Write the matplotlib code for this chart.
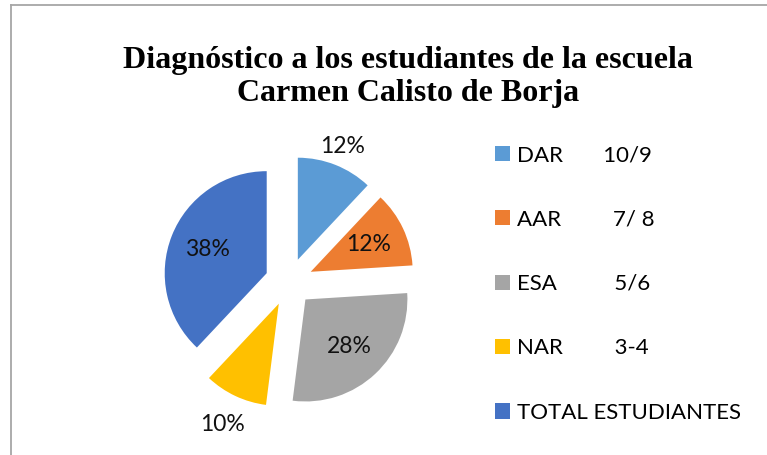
import numpy as np
import matplotlib
matplotlib.use('Agg')
import matplotlib.pyplot as plt
from matplotlib.patches import Patch
from matplotlib.lines import Line2D

#data
categories = ['DAR', 'AAR', 'ESA', 'NAR', 'TOTAL ESTUDIANTES']
ranges = ['10/9', '7/ 8', '5/6', '3-4', '']
percents = [12, 12, 28, 10, 38]
label_radius = [1.43, 0.86, 0.87, 1.54, 0.86]
gaps = [7, 9, 10, 9, 0]  # spaces between name and range in the legend

colors = ['#5B9BD5', '#ED7D31', '#A5A5A5', '#FFC000', '#4472C4']
title = 'Diagnóstico a los estudiantes de la escuela\nCarmen Calisto de Borja'

W, H = 767, 455
fig = plt.figure(figsize=(W / 100, H / 100), dpi=100)

#chart border (top and left only)
fig.add_artist(Line2D([11 / W, 1], [1 - 5 / H, 1 - 5 / H], color='#A6A6A6', lw=1.3))
fig.add_artist(Line2D([11 / W, 11 / W], [0, 1 - 5 / H], color='#A6A6A6', lw=1.3))

fig.text(408 / W, 1 - 77 / H, title, ha='center', va='center',
         family='Liberation Serif', fontweight='bold', fontsize=23, linespacing=1.15)

#pie axes: 1 data unit = 102 px, centre at (289, 282)
r_px = 102
cx, cy = 289, 282
ax = fig.add_axes([(cx - 1.5 * r_px) / W, (H - cy - 1.5 * r_px) / H, 3 * r_px / W, 3 * r_px / H])
explode = [0.235] * len(percents)
wedges, _ = ax.pie(percents, colors=colors, startangle=90, counterclock=False,
                   explode=explode, radius=1, wedgeprops=dict(linewidth=0))
ax.set_xlim(-1.5, 1.5)
ax.set_ylim(-1.5, 1.5)
ax.set_aspect('equal')
ax.axis('off')

for w, p, lr in zip(wedges, percents, label_radius):
    mid = np.deg2rad((w.theta1 + w.theta2) / 2)
    ax.text(lr * np.cos(mid), lr * np.sin(mid), f'{p}%', ha='center', va='center',
            family='Lato', fontsize=16.5, color='#111111')

#legend
handles = [Patch(facecolor=c, edgecolor='none') for c in colors]
labels = [n + ' ' * g + r for n, g, r in zip(categories, gaps, ranges)]
leg = fig.legend(handles, labels, loc='upper left', bbox_to_anchor=(484 / W, 1 - 134 / H),
                 frameon=False, prop=dict(family='Lato', size=16),
                 handlelength=0.68, handleheight=0.68, handletextpad=0.3,
                 labelspacing=2.0, borderpad=0)

fig.savefig('out.png', dpi=100)
